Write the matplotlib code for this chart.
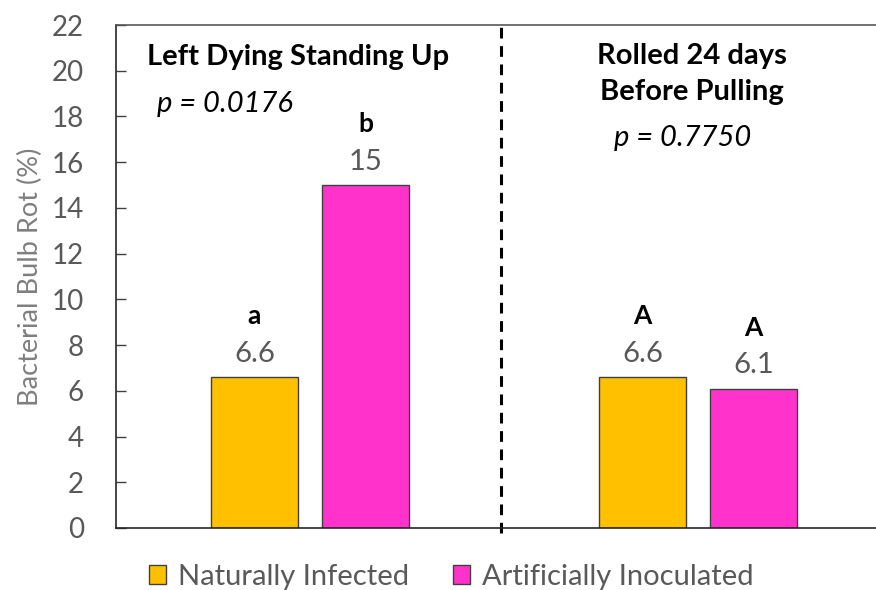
import matplotlib
matplotlib.use("Agg")
import matplotlib.pyplot as plt
import numpy as np

plt.rcParams['font.family'] = ['Lato', 'DejaVu Sans']

groups = ["Left Dying Standing Up", "Rolled 24 days\nBefore Pulling"]
p_values = ["p = 0.0176", "p = 0.7750"]
series = ["Naturally Infected", "Artificially Inoculated"]
natural = [6.6, 6.6]
artificial = [15, 6.1]
natural_letters = ["a", "A"]
artificial_letters = ["b", "A"]
value_labels_nat = ["6.6", "6.6"]
value_labels_art = ["15", "6.1"]
yticks = [0, 2, 4, 6, 8, 10, 12, 14, 16, 18, 20, 22]

colors = ["#FFC000", "#FF33CC"]
gray = "#595959"

fig = plt.figure(figsize=(8.76, 5.9), dpi=100)
ax = fig.add_axes([116/876, 62/590, 776/876, 503/590])

x = np.arange(len(groups))
w = 0.224
off = 0.143
b1 = ax.bar(x - off, natural, w, color=colors[0], edgecolor="#404040", linewidth=1, label=series[0])
b2 = ax.bar(x + off, artificial, w, color=colors[1], edgecolor="#404040", linewidth=1, label=series[1])

for bars, vals, lets in [(b1, value_labels_nat, natural_letters), (b2, value_labels_art, artificial_letters)]:
    for rect, v, l in zip(bars, vals, lets):
        cx = rect.get_x() + rect.get_width() / 2
        top = rect.get_height()
        ax.annotate(v, (cx, top), xytext=(0, 11), textcoords="offset points",
                    ha="center", va="baseline", fontsize=21, color=gray)
        ax.annotate(l, (cx, top), xytext=(0, 38), textcoords="offset points",
                    ha="center", va="baseline", fontsize=19, fontweight="bold", color="black")

ax.set_xlim(-0.5, 1.5)
ax.set_ylim(0, 22)
ax.set_yticks(yticks)
ax.set_xticks([])
ax.tick_params(axis="y", direction="in", length=7, width=1, color="#404040",
               labelsize=20, labelcolor=gray, pad=23)
ax.spines["right"].set_visible(False)
for s in ["left", "bottom"]:
    ax.spines[s].set_color("#262626")
    ax.spines[s].set_linewidth(1.2)
ax.spines["top"].set_color("#595959")
ax.spines["top"].set_linewidth(1.2)

ax.set_ylabel("Bacterial Bulb Rot (%)", fontsize=19.5, color="#7f7f7f", labelpad=6)

# divider between groups
ax.plot([0.492, 0.492], [-0.2, 22], color="black", linestyle=(0, (3.5, 2.5)),
        linewidth=2.2, clip_on=False)

# group headings
ax.text(-0.03, 20.6, groups[0], ha="center", va="center", fontsize=21, fontweight="bold")
ax.text(-0.395, 18.55, p_values[0], ha="left", va="center", fontsize=21, style="italic")
ax.text(0.985, 19.85, groups[1], ha="center", va="center", fontsize=21, fontweight="bold",
        linespacing=1.45)
ax.text(0.96, 17.05, p_values[1], ha="center", va="center", fontsize=21, style="italic")

fig.legend(handles=[b1, b2], labels=series, loc="center", bbox_to_anchor=(0.515, 0.022),
           ncol=2, frameon=False, fontsize=21, handlelength=0.6, handleheight=0.6,
           handletextpad=0.4, columnspacing=1.5, labelcolor=gray)

fig.savefig("out.png", dpi=100)
